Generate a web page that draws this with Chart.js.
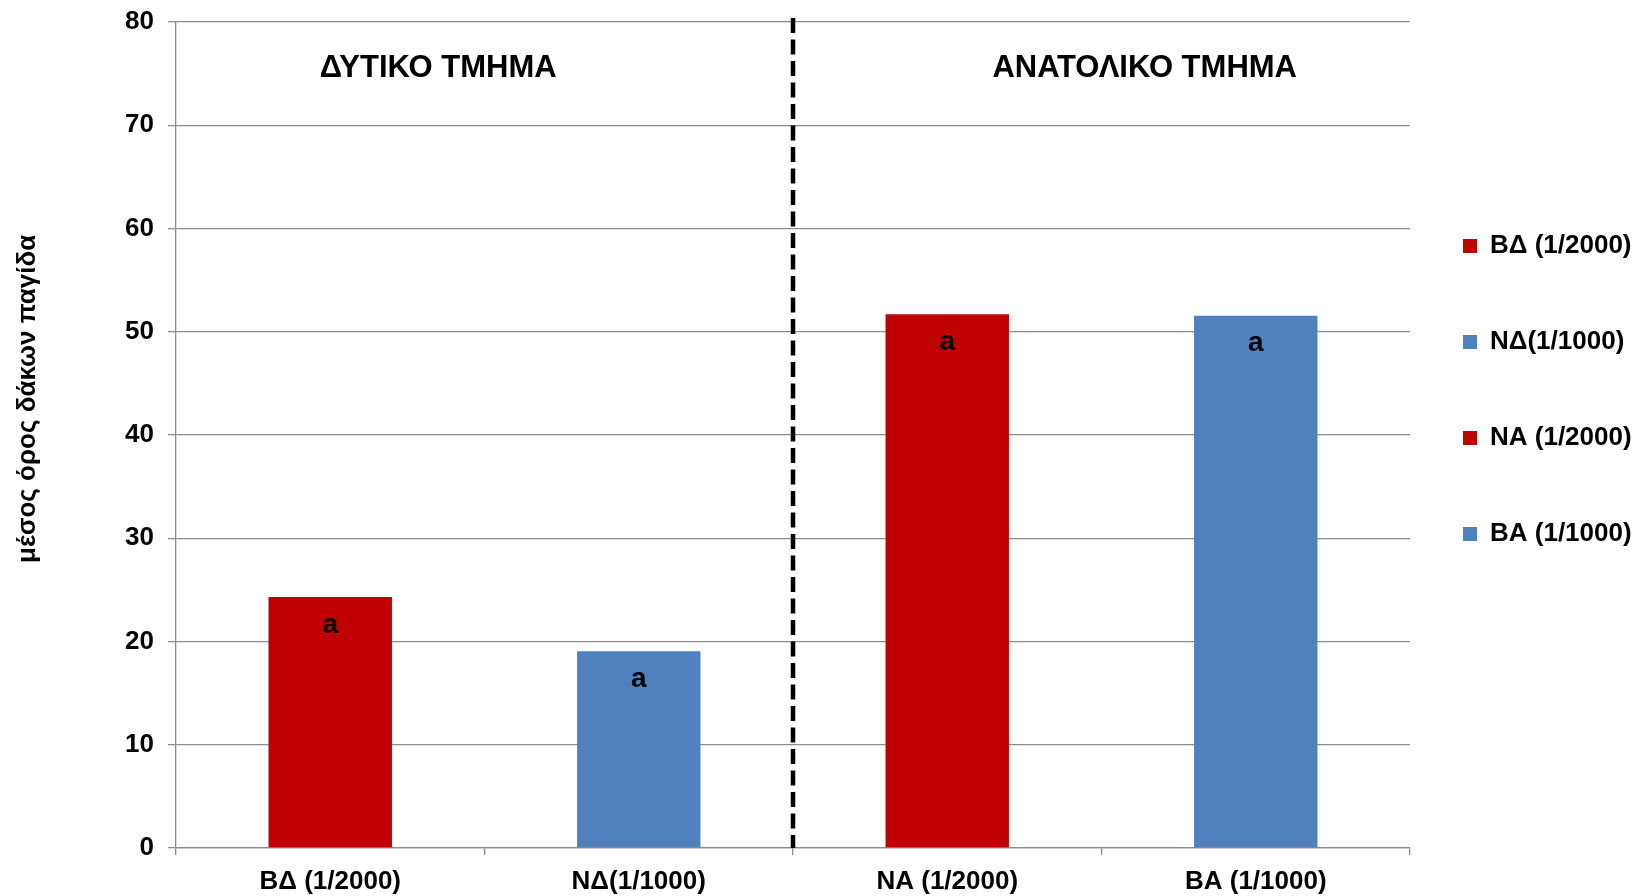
<!DOCTYPE html>
<html lang="el">
<head>
  <meta charset="UTF-8" />
  <title>Μέσος όρος δάκων ανά παγίδα</title>
  <script src="https://cdn.jsdelivr.net/npm/chart.js"></script>
  <style>
    html, body { margin: 0; padding: 0; background: #ffffff; }
    #wrap { width: 1646px; height: 896px; }
  </style>
</head>
<body>
  <div id="wrap"><canvas id="chart"></canvas></div>

  <script>
    // data
    const categories = ['ΒΔ (1/2000)', 'ΝΔ(1/1000)', 'ΝΑ (1/2000)', 'ΒΑ (1/1000)'];
    const seriesNames = ['ΒΔ (1/2000)', 'ΝΔ(1/1000)', 'ΝΑ (1/2000)', 'ΒΑ (1/1000)'];
    const seriesValues = [24.3, 19.05, 51.7, 51.55];
    const seriesColors = ['#C00000', '#4F81BD', '#C00000', '#4F81BD'];
    const letters = ['a', 'a', 'a', 'a'];
    const yTicks = [0, 10, 20, 30, 40, 50, 60, 70, 80];
    const yTitle = 'μέσος όρος δάκων παγίδα';
    const sectionLabels = ['ΔΥΤΙΚΟ ΤΜΗΜΑ', 'ΑΝΑΤΟΛΙΚΟ ΤΜΗΜΑ'];
    const sectionAt = [0.35, 2.64];   // in category units
    const sectionY = 75.5;            // in value units
    const dividerAt = 1.5;

    const FONT = "'Liberation Sans', Arial, sans-serif";
    const GRID = '#8c8c8c';

    const datasets = seriesNames.map((name, i) => ({
      label: name,
      data: categories.map((c, j) => (j === i ? seriesValues[i] : null)),
      backgroundColor: seriesColors[i],
      borderWidth: 0,
      grouped: false,
      barPercentage: 0.4,
      categoryPercentage: 1
    }));

    // legend is wider spaced than chart.js would make it
    const legendLayout = {
      id: 'legendLayout',
      beforeInit(chart) {
        const fit = chart.legend.fit;
        chart.legend.fit = function () {
          fit.bind(chart.legend)();
          this.width = 236;
        };
      },
      afterLayout(chart) {
        chart.legend.left -= 17;
        chart.legend.top += 141;
      }
    };

    const extras = {
      id: 'extras',
      afterDatasetsDraw(chart) {
        const ctx = chart.ctx;
        const x = chart.scales.x, y = chart.scales.y;
        const area = chart.chartArea;
        ctx.save();

        // letters inside bars
        ctx.fillStyle = '#000';
        ctx.textAlign = 'center';
        ctx.textBaseline = 'middle';
        ctx.font = 'bold 28px ' + FONT;
        seriesNames.forEach((n, i) => {
          const bar = chart.getDatasetMeta(i).data[i];
          ctx.fillText(letters[i], bar.x, bar.y + 28);
        });

        // dashed divider
        const dx = x.getPixelForValue(dividerAt);
        ctx.strokeStyle = '#000';
        ctx.lineWidth = 4.5;
        ctx.setLineDash([15, 6.5]);
        ctx.beginPath();
        ctx.moveTo(dx, area.top - 4);
        ctx.lineTo(dx, area.bottom);
        ctx.stroke();
        ctx.setLineDash([]);

        // section headings
        ctx.font = 'bold 31px ' + FONT;
        sectionLabels.forEach((t, i) => {
          ctx.fillText(t, x.getPixelForValue(sectionAt[i]), y.getPixelForValue(sectionY));
        });

        // y axis title
        ctx.font = 'bold 26px ' + FONT;
        ctx.translate(28, y.getPixelForValue(43.5));
        ctx.rotate(-Math.PI / 2);
        ctx.fillText(yTitle, 0, 0);
        ctx.restore();
      }
    };

    new Chart(document.getElementById('chart'), {
      type: 'bar',
      data: { labels: categories, datasets: datasets },
      options: {
        responsive: true,
        maintainAspectRatio: false,
        animation: false,
        layout: { padding: { top: 22, right: 0, bottom: 0, left: 0 } },
        scales: {
          x: {
            offset: true,
            afterFit(scale) { scale.height = 48; },
            grid: { drawOnChartArea: false, color: GRID, lineWidth: 1.3, tickLength: 7 },
            border: { color: GRID, width: 1.3 },
            ticks: { color: '#000', padding: 11, font: { family: FONT, size: 26, weight: 'bold' } }
          },
          y: {
            min: 0,
            max: 80,
            afterFit(scale) { scale.width = 176; scale.paddingTop = 0; },
            afterBuildTicks(scale) { scale.ticks = yTicks.map(v => ({ value: v })); },
            grid: { color: GRID, lineWidth: 1.3, tickLength: 8 },
            border: { color: GRID, width: 1.3 },
            ticks: { color: '#000', padding: 14, font: { family: FONT, size: 26, weight: 'bold' } }
          }
        },
        plugins: {
          legend: {
            position: 'right',
            align: 'start',
            labels: {
              boxWidth: 14,
              boxHeight: 14,
              padding: 70,
              color: '#000',
              font: { family: FONT, size: 26, weight: 'bold' }
            }
          },
          tooltip: { enabled: false }
        }
      },
      plugins: [legendLayout, extras]
    });
  </script>
</body>
</html>
